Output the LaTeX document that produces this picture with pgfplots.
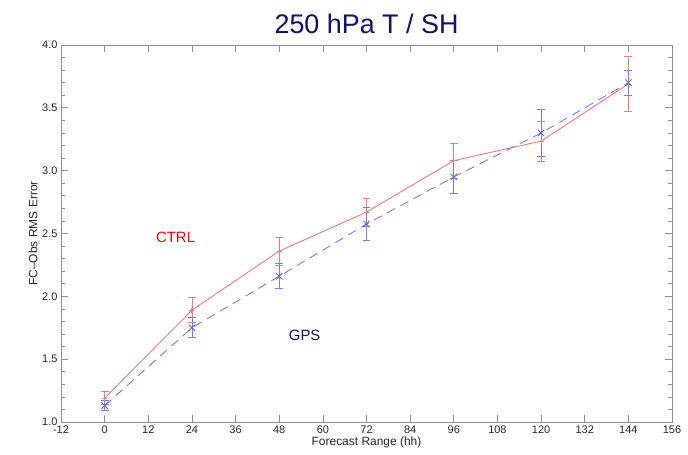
\documentclass[border=0pt]{standalone}
\usepackage{fontspec}
\setmainfont{Liberation Sans}
\usepackage{pgfplots}
\pgfplotsset{compat=1.18}
\definecolor{ctrlred}{HTML}{F07878}
\definecolor{gpsblue}{HTML}{7A7AF0}
\definecolor{navy}{HTML}{10106A}
\definecolor{axgray}{HTML}{909090}

\begin{document}
\begin{tikzpicture}
\begin{axis}[
    name=ax,
    scale only axis,
    width=611bp, height=377bp,
    xmin=-12, xmax=156,
    ymin=1.0, ymax=4.0,
    xtick={-12,0,...,156},
    ytick={1.0,1.5,...,4.0},
    minor y tick num=4,
    tick align=inside,
    major tick length=7bp,
    minor tick length=4bp,
    axis line style={axgray, line width=0.9pt},
    every tick/.style={axgray, line width=0.7pt},
    yticklabel style={/pgf/number format/.cd, fixed, fixed zerofill, precision=1},
    /pgf/number format/assume math mode=true,
    tick label style={font=\fontsize{11}{12}\selectfont, text=black!85},
    xlabel={Forecast Range (hh)},
    ylabel={FC--Obs RMS Error},
    label style={font=\fontsize{12}{13}\selectfont, text=black!85},
    xlabel style={yshift=3bp},
    ylabel style={yshift=-2bp},
    title={250 hPa T / SH},
    title style={font=\fontsize{27}{30}\selectfont, text=navy, yshift=2bp},
    clip=false,
]
% CTRL
\addplot[ctrlred, line width=0.9pt, mark=+, mark size=2.5pt,
    error bars/.cd, y dir=both, y explicit,
    error bar style={draw=ctrlred, line width=0.7pt},
    error mark options={rotate=90, mark size=4pt, draw=ctrlred, line width=0.7pt}]
coordinates {
    (0,1.19) +- (0,0.05)
    (24,1.89) +- (0,0.10)
    (48,2.36) +- (0,0.11)
    (72,2.67) +- (0,0.11)
    (96,3.08) +- (0,0.14)
    (120,3.235) +- (0,0.16)
    (144,3.69) +- (0,0.22)
};
% GPS
\addplot[gpsblue, line width=0.9pt, dash pattern=on 9pt off 6pt, mark=x, mark size=4.5pt,
    mark options={solid, color=gpsblue!80!navy},
    error bars/.cd, y dir=both, y explicit,
    error bar style={draw=gpsblue, line width=0.7pt, solid},
    error mark options={rotate=90, mark size=4pt, draw=gpsblue, line width=0.7pt}]
coordinates {
    (0,1.13) +- (0,0.04)
    (24,1.75) +- (0,0.08)
    (48,2.16) +- (0,0.10)
    (72,2.575) +- (0,0.13)
    (96,2.95) +- (0,0.13)
    (120,3.30) +- (0,0.19)
    (144,3.70) +- (0,0.10)
};
\node[text=red, font=\fontsize{15}{18}\selectfont] at (axis cs:19.5,2.47) {CTRL};
\node[text=navy, font=\fontsize{15}{18}\selectfont] at (axis cs:55,1.69) {GPS};
\end{axis}
\pgfresetboundingbox
\path ([xshift=-61bp,yshift=-33bp]ax.south west) rectangle ([xshift=16bp,yshift=45bp]ax.north east);
\end{tikzpicture}
\end{document}
